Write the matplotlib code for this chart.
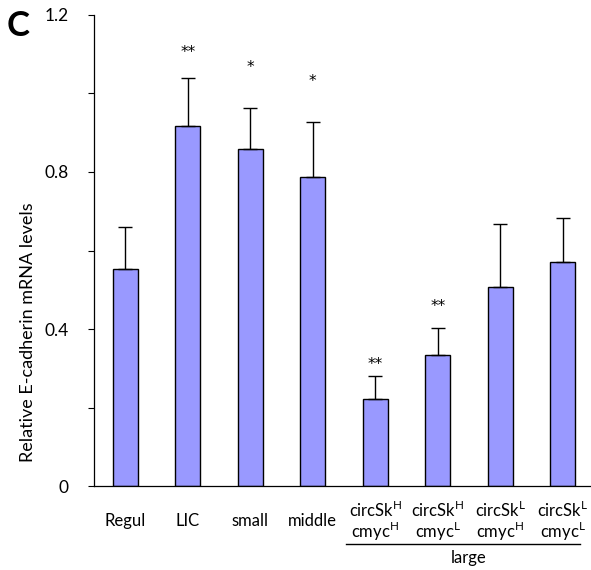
import matplotlib
matplotlib.use("Agg")
import matplotlib.pyplot as plt
from matplotlib.ticker import MultipleLocator

plt.rcParams['font.family'] = ['Lato', 'DejaVu Sans']
plt.rcParams['mathtext.fontset'] = 'custom'
plt.rcParams['mathtext.rm'] = 'Lato'

# data
groups = ["Regul", "LIC", "small", "middle", "", "", "", ""]
line1 = ["", "", "", "",
         "circSk$^{\\mathrm{H}}$", "circSk$^{\\mathrm{H}}$",
         "circSk$^{\\mathrm{L}}$", "circSk$^{\\mathrm{L}}$"]
line2 = ["", "", "", "",
         "cmyc$^{\\mathrm{H}}$", "cmyc$^{\\mathrm{L}}$",
         "cmyc$^{\\mathrm{H}}$", "cmyc$^{\\mathrm{L}}$"]
means = [0.553, 0.917, 0.859, 0.787, 0.222, 0.334, 0.507, 0.572]
errors = [0.107, 0.123, 0.104, 0.140, 0.058, 0.069, 0.160, 0.112]
stars = ["", "**", "*", "*", "**", "**", "", ""]
star_y = [0, 1.116, 1.078, 1.042, 0.321, 0.468, 0, 0]
group_label = "large"

fig = plt.figure(figsize=(5.91, 5.70), dpi=100)
ax = fig.add_axes([0.159, 0.147, 0.841, 0.827])

x = list(range(len(means)))
ax.bar(x, means, width=0.4, color="#9999FF", edgecolor="black", linewidth=1.0)
ax.errorbar(x, means, yerr=[[0] * len(errors), errors], fmt="none",
            ecolor="black", elinewidth=1.0, capsize=5, capthick=1.0)

# asterisks: DejaVu glyph is centred ~0.6 em above baseline
for i, s in enumerate(stars):
    if s:
        ax.text(i, star_y[i] - 0.023, s, ha="center", va="baseline",
                fontsize=11, family="DejaVu Sans")

ax.set_xlim(-0.5, 7.45)
ax.set_ylim(0, 1.2)
ax.set_yticks([0, 0.4, 0.8, 1.2])
ax.set_yticklabels(["0", "0.4", "0.8", "1.2"])
ax.yaxis.set_minor_locator(MultipleLocator(0.2))
ax.tick_params(axis="y", which="both", direction="out", length=4, width=0.8,
               labelsize=12.5, pad=14)
ax.set_xticks([])
for side in ["top", "right"]:
    ax.spines[side].set_visible(False)
ax.spines["left"].set_linewidth(0.9)
ax.spines["bottom"].set_linewidth(0.9)

trans = ax.get_xaxis_transform()
for i in x:
    if groups[i]:
        ax.text(i, -0.074, groups[i], ha="center", va="center", fontsize=12,
                transform=trans, clip_on=False)
    else:
        ax.text(i, -0.050, line1[i], ha="center", va="center", fontsize=12,
                transform=trans, clip_on=False)
        ax.text(i, -0.097, line2[i], ha="center", va="center", fontsize=12,
                transform=trans, clip_on=False)

ax.plot([3.53, 7.27], [-0.122, -0.122], color="black", linewidth=1.0,
        transform=trans, clip_on=False)
ax.text(5.5, -0.152, group_label, ha="center", va="center", fontsize=12,
        transform=trans, clip_on=False)

fig.text(28 / 591, 1 - 332 / 570, "Relative E-cadherin mRNA levels",
         rotation=90, ha="center", va="center", fontsize=13)
fig.text(0.012, 0.982, "C", fontsize=25, fontweight="bold", va="top")

fig.savefig("out.png", dpi=100)
